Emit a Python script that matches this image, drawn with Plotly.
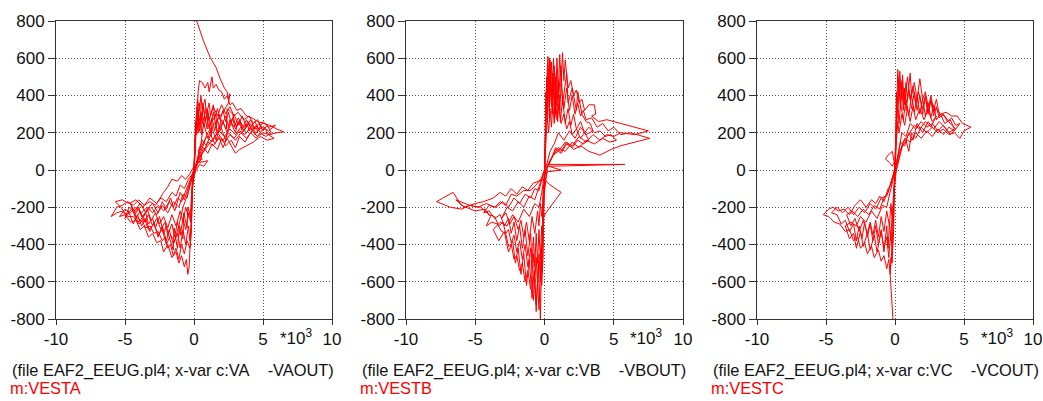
import plotly.graph_objects as go

# ---- data: (x in units of 10^3, y) along each trace ----
path_a = [
    (0.2,800),(0.7,690),(1.2,600),(1.6,550),(1.9,490),(2.2,440),(2.4,420),(2.5,380),(2.6,410),(2.5,360),
    (2.0,300),(1.0,200),(0.3,60),(0.0,0),
    (0.1,150),(0.2,300),(0.3,420),(0.4,480),(0.6,470),(0.8,440),(1.0,470),(1.1,420),(1.3,500),(1.4,440),(1.6,460),
    (1.8,430),(2.0,420),(2.2,380),(2.4,400),(2.6,350),(2.8,360),(3.1,320),(3.4,330),(3.8,290),(4.2,280),(4.6,260),
    (5.0,250),(5.5,240),(6.0,220),(6.5,205),(6.0,200),(5.5,190),(5.0,200),(4.6,180),(4.2,210),(3.8,170),(3.4,200),
    (3.0,160),(2.6,190),(2.2,150),(1.8,170),(1.4,130),(1.0,150),(0.7,100),(0.4,70),(0.2,30),(0.0,-10),
    (-0.1,-60),(-0.15,-200),(-0.2,-350),(-0.3,-420),(-0.5,-380),(-0.7,-450),(-0.9,-400),(-1.1,-480),(-1.3,-420),
    (-1.5,-460),(-1.7,-400),(-1.9,-420),(-2.1,-360),(-2.3,-380),(-2.6,-330),(-2.9,-340),(-3.2,-300),(-3.5,-310),
    (-3.8,-270),(-4.1,-280),(-4.4,-250),(-4.8,-250),(-5.2,-220),(-5.6,-230),(-6.0,-250),(-5.6,-200),(-5.2,-190),
    (-4.8,-170),(-4.4,-190),(-4.0,-160),(-3.6,-190),(-3.2,-170),(-2.8,-190),(-2.4,-150),(-2.0,-170),(-1.6,-120),
    (-1.3,-140),(-1.0,-80),(-0.7,-100),(-0.4,-50),(-0.1,-20),(0.0,10),
    (0.1,100),(0.15,250),(0.25,380),(0.4,320),(0.5,400),(0.6,330),(0.8,380),(0.9,300),(1.1,360),(1.2,290),(1.4,350),
    (1.5,280),(1.7,330),(1.9,270),(2.1,320),(2.3,260),(2.5,310),(2.7,250),(2.9,300),(3.2,240),(3.5,290),(3.8,230),
    (4.1,270),(4.4,220),(4.7,250),(5.0,210),(5.3,240),(5.6,200),(5.2,180),(4.8,200),(4.5,170),(4.1,200),(3.7,150),
    (3.3,180),(3.0,120),(2.7,160),(2.3,130),(2.0,170),(1.7,110),(1.3,140),(1.0,90),(0.7,120),(0.4,60),(0.1,0),
    (-0.1,-80),(-0.2,-250),(-0.3,-400),(-0.35,-520),(-0.45,-560),(-0.55,-480),(-0.7,-520),(-0.9,-460),(-1.1,-500),
    (-1.3,-440),(-1.6,-470),(-1.9,-400),(-2.2,-440),(-2.4,-380),(-2.7,-390),(-3.0,-340),(-3.3,-360),(-3.6,-300),
    (-3.9,-320),(-4.2,-270),(-4.6,-280),(-5.0,-240),(-5.4,-250),(-5.0,-210),(-4.6,-230),(-4.2,-200),(-3.8,-230),
    (-3.4,-200),(-3.0,-230),(-2.6,-190),(-2.2,-220),(-1.8,-170),(-1.5,-200),(-1.2,-150),(-0.9,-170),(-0.6,-110),
    (-0.3,-60),(0.0,0),
    (0.1,200),(0.2,340),(0.3,260),(0.4,360),(0.5,280),(0.7,340),(0.8,260),(1.0,320),(1.2,240),(1.4,310),(1.6,230),
    (1.8,300),(2.0,240),(2.3,290),(2.5,230),(2.8,280),(3.0,220),(3.3,270),(3.6,210),(3.9,260),(4.2,210),(4.5,240),
    (4.8,200),(5.1,230),(5.4,190),(5.8,170),(5.3,160),(4.8,180),(4.3,150),(3.8,130),(3.3,110),(3.0,90),(2.7,130),
    (2.4,170),(2.1,120),(1.8,180),(1.5,140),(1.2,190),(0.9,130),(0.6,160),(0.3,80),(0.0,0),
    (-0.1,-40),(-0.2,-150),(-0.25,-280),(-0.4,-230),(-0.6,-320),(-0.8,-260),(-1.0,-350),(-1.2,-280),(-1.4,-360),
    (-1.6,-290),(-1.9,-350),(-2.1,-280),(-2.4,-320),(-2.7,-260),(-3.0,-300),(-3.3,-240),(-3.6,-280),(-3.9,-220),
    (-4.2,-260),(-4.5,-210),(-4.9,-240),(-5.3,-200),(-5.7,-170),(-5.2,-160),(-4.7,-180),(-4.2,-160),(-3.7,-200),
    (-3.2,-150),(-2.7,-180),(-2.2,-120),(-1.9,-90),(-1.6,-50),(-1.2,-60),(-0.9,-30),(-0.6,-50),(-0.3,-20),(0.0,20),
    (0.1,180),(0.3,300),(0.4,240),(0.6,310),(0.7,230),(0.9,290),(1.1,220),(1.3,280),(1.5,210),(1.7,270),(1.9,210),
    (2.1,260),(2.4,200),(2.7,250),(3.0,200),(3.2,260),(3.5,220),(3.8,270),(4.1,230),(4.4,260),(4.7,220),(5.0,260),
    (5.4,230),(5.9,240),(5.4,210),(4.9,230),(4.5,200),(4.1,230),(3.7,190),(3.3,210),(2.9,170),(2.5,200),(2.1,160),
    (1.7,200),(1.3,150),(0.9,180),(0.5,120),(0.2,40),(0.0,-20),
    (-0.1,-100),(-0.2,-300),(-0.3,-380),(-0.4,-300),(-0.6,-400),(-0.8,-320),(-1.0,-420),(-1.2,-340),(-1.5,-400),
    (-1.8,-320),(-2.0,-380),(-2.3,-300),(-2.6,-360),(-2.9,-280),(-3.2,-330),(-3.5,-260),(-3.8,-300),(-4.1,-240),
    (-4.4,-290),(-4.7,-230),(-5.0,-260),(-4.7,-200),(-4.3,-220),(-3.9,-180),(-3.5,-230),(-3.1,-200),(-2.7,-240),
    (-2.3,-190),(-1.9,-230),(-1.5,-170),(-1.1,-200),(-0.8,-130),(-0.5,-150),(-0.3,-80),(-0.1,-30),(0.0,0),
    (0.05,120),(0.15,260),(0.2,190),(0.3,280),(0.4,210),(0.5,300),(0.6,250),(0.9,330),(1.1,270),(1.4,340),(1.7,290),
    (2.0,350),(2.3,300),(2.6,340),(2.9,290),(3.2,310),(3.6,270),(4.0,290),(4.3,250),(4.6,270),(4.9,230),(4.6,210),
    (4.2,240),(3.8,200),(3.4,230),(3.0,190),(2.6,220),(2.2,180),(1.8,210),(1.4,170),(1.0,130),(0.6,90),(0.4,40),
    (1.0,50),(0.7,20),(0.4,30),(0.1,-10),
    (-0.1,-50),(-0.2,-200),(-0.4,-250),(-0.6,-200),(-0.8,-280),(-1.0,-220),(-1.3,-300),(-1.6,-240),(-1.9,-310),
    (-2.2,-250),(-2.5,-290),(-2.8,-230),(-3.1,-270),(-3.4,-210),(-3.7,-260),(-4.0,-210),(-4.3,-240),(-4.0,-290),
    (-3.6,-260),(-3.3,-320),(-2.9,-290),(-2.6,-350),(-2.3,-320),(-2.0,-400),(-1.7,-350),(-1.4,-380),(-1.1,-300),
    (-0.8,-200),(-0.5,-140),(-0.2,-60),(0.0,0),
    (0.05,80),(0.1,260),(0.35,200),(0.3,330),(0.55,190),(0.6,360),(0.95,220),(1.0,300),(1.25,180),(1.3,260),
    (1.6,300),(1.65,200),(2.0,270),(2.35,220),(2.4,330),(2.8,300),(3.0,240),(3.4,250),(3.5,200),(3.9,240),(4.0,210),
    (4.3,230),(4.4,190),(4.7,215),(4.0,250),(3.6,230),(3.2,280),(2.9,230),(2.6,270),(2.3,160),(1.9,240),(1.6,160),
    (1.3,230),(1.0,170),(0.7,250),(0.5,140),(0.3,100),(0.6,60),(0.2,30),(0.0,0),
    (-0.15,-120),(-0.2,-260),(-0.45,-200),(-0.5,-310),(-0.75,-230),(-0.8,-370),(-1.05,-300),(-1.2,-420),
    (-1.45,-310),(-1.5,-430),(-1.8,-360),(-2.0,-300),(-2.2,-340),(-2.5,-250),(-2.8,-310),(-3.0,-260),(-3.3,-290),
    (-3.5,-230),(-3.8,-250),(-4.0,-200),(-4.3,-230),(-4.6,-180),(-4.2,-250),(-3.9,-270),(-3.6,-240),(-3.3,-200),
    (-3.0,-180),(-2.6,-230),(-2.3,-170),(-2.0,-210),(-1.7,-150),(-1.4,-220),(-1.0,-120),(-0.7,-160),(-0.4,-90),
    (-0.2,-40),(0.0,0),
]

path_b = [
    (0.0,0),(0.1,200),(0.15,400),(0.2,550),(0.25,610),(0.3,450),(0.35,600),(0.45,420),(0.5,580),(0.6,400),(0.7,560),
    (0.8,380),(0.9,600),(1.0,420),(1.1,620),(1.2,450),(1.3,630),(1.4,480),(1.5,590),(1.7,440),(1.9,480),(2.1,400),
    (2.3,430),(2.5,360),(2.7,380),(2.9,320),(3.2,350),(3.6,350),(3.7,300),(3.4,290),(3.9,260),(4.5,270),(7.5,210),
    (6.5,190),(5.5,200),(5.0,180),(4.5,190),(4.0,160),(3.5,190),(3.0,150),(2.5,180),(2.0,130),(1.5,150),(1.0,100),
    (0.6,80),(0.3,30),(5.8,30),(0.3,20),(1.2,0),(0.2,-10),
    (-0.1,-100),(-0.15,-300),(-0.2,-500),(-0.25,-700),(-0.3,-800),(-0.35,-650),(-0.4,-750),(-0.5,-600),(-0.6,-720),
    (-0.7,-580),(-0.8,-700),(-0.9,-560),(-1.0,-640),(-1.2,-540),(-1.4,-600),(-1.6,-500),(-1.8,-540),(-2.0,-460),
    (-2.2,-480),(-2.4,-400),(-2.6,-410),(-2.8,-340),(-3.1,-330),(-3.4,-290),(-3.8,-280),(-4.2,-300),(-3.9,-250),
    (-4.3,-210),(-5.0,-220),(-6.0,-190),(-6.6,-120),(-7.8,-170),(-6.8,-200),(-6.0,-210),(-5.4,-190),(-4.8,-200),
    (-4.2,-180),(-3.6,-200),(-3.2,-170),(-2.8,-190),(-2.4,-130),(-2.0,-140),(-1.5,-110),(-1.0,-110),(-0.6,-80),
    (-0.2,-40),(0.0,0),
    (0.05,150),(0.1,350),(0.15,500),(0.2,380),(0.25,560),(0.3,400),(0.4,540),(0.5,360),(0.6,520),(0.7,350),(0.8,500),
    (0.9,340),(1.0,480),(1.1,320),(1.2,460),(1.4,330),(1.6,440),(1.8,320),(2.0,400),(2.2,300),(2.4,360),(2.6,290),
    (2.8,320),(3.0,270),(3.4,280),(3.8,230),(4.2,250),(4.6,210),(5.0,230),(5.5,190),(6.2,200),(7.6,170),(6.5,150),
    (5.5,130),(4.8,110),(4.0,80),(3.2,100),(2.6,130),(2.1,110),(1.6,150),(1.2,100),(0.8,120),(0.5,60),(0.2,10),
    (-0.05,-150),(-0.1,-350),(-0.15,-550),(-0.2,-400),(-0.3,-600),(-0.4,-450),(-0.5,-620),(-0.6,-470),(-0.7,-600),
    (-0.8,-450),(-0.9,-560),(-1.0,-420),(-1.2,-520),(-1.4,-400),(-1.6,-480),(-1.8,-380),(-2.0,-440),(-2.2,-350),
    (-2.4,-390),(-2.6,-320),(-2.8,-340),(-3.0,-280),(-3.3,-300),(-3.6,-250),(-4.0,-240),(-4.6,-200),(-5.4,-190),
    (-6.4,-160),(-5.8,-200),(-5.0,-180),(-4.4,-170),(-3.7,-150),(-3.2,-120),(-2.8,-140),(-2.4,-100),(-2.0,-130),
    (-1.6,-90),(-1.2,-110),(-0.8,-70),(-0.4,-60),(0.0,-50),
    (0.4,-80),(0.8,-100),(1.2,-120),(0.8,-160),(0.4,-200),(0.1,-230),(-0.1,-260),(0.0,-120),(0.05,0),
    (0.1,250),(0.15,450),(0.2,300),(0.3,480),(0.35,320),(0.45,470),(0.55,300),(0.65,450),(0.75,280),(0.85,430),
    (0.95,260),(1.05,400),(1.15,260),(1.3,380),(1.5,250),(1.7,330),(1.9,240),(2.1,300),(2.3,220),(2.6,260),(2.9,200),
    (3.2,230),(3.6,200),(4.0,210),(4.4,180),(4.8,190),(5.2,160),(4.7,150),(4.2,170),(3.6,140),(3.0,160),(2.5,120),
    (2.0,150),(1.5,100),(1.0,120),(0.6,70),(0.3,40),(0.0,-20),
    (-0.1,-200),(-0.15,-400),(-0.2,-300),(-0.3,-480),(-0.4,-320),(-0.5,-500),(-0.6,-340),(-0.7,-520),(-0.8,-360),
    (-0.9,-500),(-1.0,-340),(-1.2,-460),(-1.4,-320),(-1.6,-420),(-1.8,-300),(-2.0,-380),(-2.2,-280),(-2.4,-340),
    (-2.6,-260),(-2.9,-300),(-3.2,-240),(-3.6,-260),(-4.0,-220),(-4.4,-230),(-4.0,-190),(-3.5,-200),(-3.0,-170),
    (-2.6,-200),(-2.2,-150),(-1.8,-180),(-1.4,-130),(-1.0,-150),(-0.7,-100),(-0.4,-110),(-0.2,-60),(0.0,0),
    (0.1,150),(0.2,280),(0.3,200),(0.4,330),(0.5,230),(0.6,360),(0.7,250),(0.8,380),(0.9,270),(1.0,350),(1.2,250),
    (1.4,300),(1.6,220),(1.8,260),(2.0,190),(2.3,220),(2.6,170),(2.9,200),(3.2,160),(2.8,140),(2.4,160),(2.0,120),
    (1.6,140),(1.2,90),(0.8,110),(0.5,60),(0.2,20),(0.0,-40),
    (-0.1,-150),(-0.2,-250),(-0.3,-180),(-0.4,-300),(-0.5,-220),(-0.7,-340),(-0.9,-250),(-1.1,-380),(-1.3,-280),
    (-1.5,-360),(-1.7,-270),(-1.9,-320),(-2.2,-250),(-2.5,-290),(-2.8,-230),(-3.1,-260),(-2.7,-200),(-2.3,-220),
    (-1.9,-170),(-1.5,-200),(-1.1,-140),(-0.7,-160),(-0.4,-90),(-0.1,-30),(0.0,0),
    (0.05,200),(0.1,420),(0.2,260),(0.25,500),(0.35,280),(0.4,590),(0.55,340),(0.65,600),(0.8,300),(0.85,520),
    (1.0,380),(1.2,560),(1.3,350),(1.6,520),(1.7,360),(2.0,440),(2.3,320),(2.4,420),(2.7,300),(3.0,260),(3.3,250),
    (3.5,210),(3.0,190),(2.6,230),(2.2,170),(1.8,210),(1.4,160),(1.0,200),(0.7,140),(0.4,100),(0.2,40),(0.0,0),
    (-0.05,-200),(-0.1,-450),(-0.2,-620),(-0.25,-420),(-0.35,-700),(-0.45,-500),(-0.6,-760),(-0.75,-540),
    (-0.9,-690),(-1.1,-480),(-1.3,-620),(-1.5,-450),(-1.7,-560),(-1.9,-420),(-2.1,-500),(-2.3,-380),(-2.6,-440),
    (-2.9,-330),(-3.3,-380),(-3.7,-320),(-3.2,-280),(-2.7,-300),(-2.3,-240),(-1.9,-280),(-1.5,-210),(-1.1,-250),
    (-0.7,-180),(-0.4,-200),(-0.2,-120),(0.0,-20),
]

path_c = [
    (-0.15,-800),(-0.25,-650),(-0.35,-560),(-0.2,-400),(-0.1,-200),(0.0,0),
    (0.1,200),(0.15,380),(0.2,540),(0.3,400),(0.35,530),(0.45,380),(0.55,510),(0.65,360),(0.8,470),(0.9,380),
    (1.1,520),(1.2,400),(1.4,470),(1.6,380),(1.8,490),(2.0,380),(2.2,420),(2.4,340),(2.6,380),(2.8,310),(3.0,330),
    (3.3,300),(3.7,310),(4.1,290),(4.5,290),(4.9,250),(5.5,230),(5.0,210),(4.7,170),(4.3,200),(3.9,190),(3.5,220),
    (3.1,200),(2.7,230),(2.3,200),(1.9,230),(1.5,170),(1.2,200),(1.0,100),(0.8,160),(0.5,120),(0.3,60),(0.1,0),
    (-0.05,-100),(-0.1,-250),(-0.15,-400),(-0.2,-500),(-0.3,-470),(-0.35,-560),(-0.45,-480),(-0.6,-530),(-0.8,-460),
    (-1.0,-490),(-1.2,-430),(-1.5,-470),(-1.7,-410),(-2.0,-450),(-2.2,-390),(-2.5,-420),(-2.7,-360),(-3.0,-380),
    (-3.3,-320),(-3.6,-330),(-4.0,-290),(-4.4,-280),(-4.8,-250),(-5.2,-240),(-4.8,-210),(-4.5,-200),(-4.1,-220),
    (-3.7,-210),(-3.3,-240),(-2.9,-190),(-2.5,-160),(-2.1,-200),(-1.7,-160),(-1.4,-180),(-1.1,-140),(-0.8,-170),
    (-0.5,-100),(-0.3,-80),(-0.1,-20),(0.0,20),
    (-0.2,100),(-0.5,80),(-0.7,60),(-0.4,40),(-0.2,20),(0.0,50),
    (0.1,250),(0.15,400),(0.2,300),(0.3,470),(0.4,330),(0.5,460),(0.6,320),(0.7,440),(0.8,320),(1.0,430),(1.2,330),
    (1.4,420),(1.6,320),(1.8,400),(2.0,300),(2.2,390),(2.4,300),(2.6,370),(2.8,290),(3.0,340),(3.2,280),(3.5,300),
    (3.8,260),(4.1,280),(4.4,240),(4.7,250),(4.3,210),(3.9,230),(3.5,190),(3.1,220),(2.7,180),(2.3,210),(1.9,170),
    (1.5,200),(1.1,150),(0.7,170),(0.4,100),(0.2,40),(0.0,-30),
    (-0.1,-150),(-0.15,-300),(-0.2,-220),(-0.3,-380),(-0.4,-280),(-0.5,-420),(-0.6,-300),(-0.8,-440),(-1.0,-320),
    (-1.2,-400),(-1.4,-300),(-1.6,-380),(-1.8,-290),(-2.0,-360),(-2.2,-280),(-2.4,-370),(-2.6,-300),(-2.8,-380),
    (-3.0,-290),(-3.3,-330),(-3.6,-270),(-3.9,-290),(-4.2,-240),(-4.6,-230),(-4.2,-200),(-3.8,-230),(-3.4,-200),
    (-3.0,-240),(-2.6,-200),(-2.2,-230),(-1.8,-180),(-1.4,-210),(-1.0,-150),(-0.6,-140),(-0.3,-70),(0.0,0),
    (0.1,200),(0.2,330),(0.3,250),(0.4,360),(0.6,270),(0.8,380),(1.0,290),(1.2,400),(1.4,310),(1.6,390),(1.8,300),
    (2.0,380),(2.2,290),(2.4,360),(2.6,280),(2.8,350),(3.0,270),(3.3,300),(3.6,250),(4.0,270),(4.3,220),(3.9,200),
    (3.5,240),(3.1,210),(2.7,250),(2.3,230),(1.9,260),(1.5,220),(1.1,250),(0.8,180),(0.5,200),(0.3,120),(0.1,50),
    (0.0,-10),
    (-0.1,-120),(-0.2,-250),(-0.3,-180),(-0.4,-300),(-0.6,-220),(-0.8,-330),(-1.0,-250),(-1.2,-360),(-1.4,-270),
    (-1.6,-350),(-1.8,-280),(-2.0,-340),(-2.3,-270),(-2.6,-330),(-2.9,-260),(-3.2,-300),(-3.5,-240),(-3.1,-220),
    (-2.7,-250),(-2.3,-210),(-1.9,-240),(-1.5,-190),(-1.1,-210),(-0.8,-150),(-0.5,-120),(-0.2,-50),(0.0,10),
    (0.1,150),(0.2,260),(0.3,200),(0.5,300),(0.7,240),(0.9,330),(1.1,260),(1.3,340),(1.5,270),(1.8,330),(2.1,270),
    (2.4,320),(2.7,260),(3.0,290),(2.6,230),(2.2,260),(1.8,220),(1.4,240),(1.0,190),(0.6,150),(0.3,90),(0.0,0),
    (0.05,150),(0.1,420),(0.2,300),(0.25,500),(0.4,340),(0.5,480),(0.7,350),(0.9,500),(1.1,380),(1.3,450),(1.5,350),
    (1.7,420),(2.0,330),(2.2,400),(2.4,310),(2.6,400),(2.8,320),(3.0,380),(3.2,300),(3.6,290),(4.0,250),(4.4,220),
    (4.0,190),(3.6,230),(3.2,260),(2.8,220),(2.4,260),(2.0,200),(1.6,250),(1.3,160),(1.0,200),(0.7,130),(0.4,150),
    (0.2,80),(0.0,0),
    (-0.05,-150),(-0.1,-330),(-0.2,-450),(-0.3,-330),(-0.45,-470),(-0.6,-360),(-0.8,-420),(-1.0,-330),(-1.3,-440),
    (-1.5,-350),(-1.8,-430),(-2.0,-340),(-2.3,-410),(-2.5,-330),(-2.8,-420),(-3.0,-340),(-3.3,-370),(-3.6,-300),
    (-3.2,-280),(-2.8,-300),(-2.5,-250),(-2.1,-280),(-1.7,-220),(-1.3,-260),(-0.9,-190),(-0.6,-200),(-0.3,-100),
    (0.0,-10),
]

x_ticks = [-10, -5, 0, 5, 10]
y_ticks = [-800, -600, -400, -200, 0, 200, 400, 600, 800]
file_labels = ["(file EAF2_EEUG.pl4; x-var c:VA\u00a0\u00a0\u00a0\u00a0-VAOUT)",
               "(file EAF2_EEUG.pl4; x-var c:VB\u00a0\u00a0\u00a0\u00a0-VBOUT)",
               "(file EAF2_EEUG.pl4; x-var c:VC\u00a0\u00a0\u00a0\u00a0-VCOUT)"]
var_labels = ["m:VESTA", "m:VESTB", "m:VESTC"]
exp_label = "*10<sup>3</sup>"

W, H = 1043, 401
FONT = "Liberation Sans"
RED = "#ff0000"
px_left = [56, 406, 757]
px_right = [332, 683, 1033]
y_top, y_bot = 21, 319

fig = go.Figure()
for i, path in enumerate([path_a, path_b, path_c]):
    suffix = "" if i == 0 else str(i + 1)
    fig.add_trace(go.Scatter(x=[p[0] for p in path], y=[p[1] for p in path], mode="lines",
                             line=dict(color=RED, width=1),
                             xaxis="x" + suffix, yaxis="y" + suffix,
                             showlegend=False, hoverinfo="skip"))

axis_common = dict(showline=True, linecolor="#333333", linewidth=1, mirror=True,
                   showgrid=True, gridcolor="#555555", griddash="1px,2px", gridwidth=1,
                   zeroline=False, ticks="outside", tickcolor="#333333", automargin=False,
                   tickfont=dict(family=FONT, size=17, color="#111111"))
layout = dict(width=W, height=H, autosize=False,
              margin=dict(l=0, r=0, t=0, b=0, pad=0, autoexpand=False),
              paper_bgcolor="white", plot_bgcolor="white", showlegend=False)
annotations = []
for i in range(3):
    suffix = "" if i == 0 else str(i + 1)
    layout["xaxis" + suffix] = dict(axis_common, domain=[px_left[i] / W, px_right[i] / W],
                                    range=[-10, 10], tickvals=x_ticks,
                                    ticktext=[str(v) for v in x_ticks],
                                    anchor="y" + suffix, ticklen=5)
    layout["yaxis" + suffix] = dict(axis_common, domain=[(H - y_bot) / H, (H - y_top) / H],
                                    range=[-800, 800], tickvals=y_ticks,
                                    ticktext=[str(v) for v in y_ticks],
                                    anchor="x" + suffix, ticklen=7)
    annotations.append(dict(xref="x" + suffix, yref="paper", x=7.4, y=(H - 337) / H,
                            text=exp_label, showarrow=False, xanchor="center", yanchor="middle",
                            font=dict(family=FONT, size=17, color="#111111")))
    annotations.append(dict(xref="paper", yref="paper", x=(px_left[i] - 46) / W, y=(H - 370) / H,
                            text=file_labels[i], showarrow=False, xanchor="left", yanchor="middle",
                            font=dict(family=FONT, size=16.4, color="#111111")))
    annotations.append(dict(xref="paper", yref="paper", x=(px_left[i] - 48) / W, y=(H - 388) / H,
                            text=var_labels[i], showarrow=False, xanchor="left", yanchor="middle",
                            font=dict(family=FONT, size=16.4, color=RED)))
layout["annotations"] = annotations
fig.update_layout(**layout)
fig.write_html("out.html")
